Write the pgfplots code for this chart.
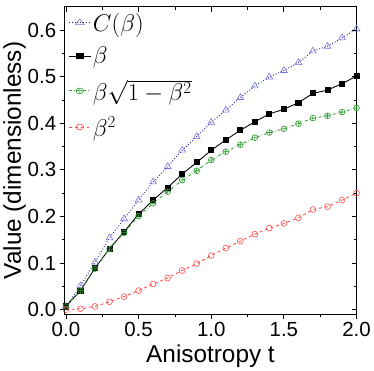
\documentclass[border=0pt]{standalone}
\usepackage{fontspec}
\setmainfont{Liberation Sans}
\usepackage{pgfplots}
\pgfplotsset{compat=1.18}
\usepackage{pgfplotstable}

\definecolor{cblue}{rgb}{0.1,0.1,0.6}
\definecolor{cbluem}{rgb}{0.45,0.45,0.85}
\definecolor{cgreen}{rgb}{0.2,0.62,0.2}
\definecolor{cred}{rgb}{1,0.3,0.3}

\pgfplotstableread{
t    C      b      bs     b2
0.0  0.007  0.007  0.007  0.000
0.1  0.051  0.041  0.041  0.002
0.2  0.102  0.089  0.088  0.007
0.3  0.154  0.131  0.130  0.017
0.4  0.195  0.167  0.165  0.028
0.5  0.235  0.205  0.201  0.041
0.6  0.274  0.235  0.228  0.055
0.7  0.307  0.262  0.253  0.068
0.8  0.342  0.291  0.278  0.084
0.9  0.371  0.316  0.298  0.099
1.0  0.402  0.342  0.321  0.116
1.1  0.428  0.364  0.339  0.132
1.2  0.455  0.385  0.354  0.147
1.3  0.480  0.403  0.369  0.162
1.4  0.499  0.420  0.380  0.175
1.5  0.513  0.430  0.388  0.185
1.6  0.530  0.444  0.399  0.197
1.7  0.555  0.464  0.411  0.215
1.8  0.565  0.471  0.416  0.221
1.9  0.583  0.485  0.424  0.235
2.0  0.602  0.501  0.433  0.250
}\data

\begin{document}
\begin{tikzpicture}
\pgfplotsset{
  common/.style={
    scale only axis,
    width=300pt, height=316pt,
    xmin=-0.01, xmax=2.0,
    ymin=-0.01, ymax=0.65,
    xtick={0,0.5,...,2.0},
    ytick={0,0.1,...,0.6},
    minor x tick num=1,
    minor y tick num=1,
    major tick length=5pt,
    minor tick length=3pt,
    every tick/.style={black, line width=0.8pt},
    axis line style={line width=1pt},
  }
}
\begin{axis}[
  common,
  tick align=outside,
  xtick pos=bottom, ytick pos=left,
  /pgf/number format/assume math mode=true,
  /pgf/number format/.cd, fixed, fixed zerofill, precision=1, /pgfplots/.cd,
  tick label style={font=\fontsize{21}{23}\selectfont},
  label style={font=\fontsize{25}{27}\selectfont},
  xlabel={Anisotropy t},
  ylabel={Value (dimensionless)},
  xlabel style={yshift=-1pt},
  ylabel style={yshift=-5pt},
  legend style={at={(0.01,0.99)}, anchor=north west, draw=none, fill=none,
    font=\fontsize{26}{28}\selectfont, row sep=11pt, inner sep=1pt},
  legend cell align=left,
  legend image post style={xscale=1.3},
]
\addplot[cblue, dotted, line width=0.9pt, mark=triangle, mark size=4pt,
  mark options={solid, cbluem, line width=0.6pt}] table[x=t, y=C] {\data};
\addlegendentry{$C(\beta)$}
\addplot[black, solid, line width=0.9pt, mark=square*, mark size=2.6pt] table[x=t, y=b] {\data};
\addlegendentry{$\beta$}
\addplot[cgreen, dash dot, line width=0.9pt, mark=oplus, mark size=3pt,
  mark options={solid, line width=0.6pt}] table[x=t, y=bs] {\data};
\addlegendentry{$\beta\sqrt{1-\beta^2}$}
\addplot[cred, dashed, line width=0.9pt, mark=o, mark size=3pt,
  mark options={solid, line width=0.6pt}] table[x=t, y=b2] {\data};
\addlegendentry{$\beta^2$}
\end{axis}
\begin{axis}[
  common,
  tick align=inside,
  xtick pos=top, ytick pos=right,
  xticklabels={}, yticklabels={},
  axis line style={draw=none},
]
\end{axis}
\end{tikzpicture}
\end{document}
